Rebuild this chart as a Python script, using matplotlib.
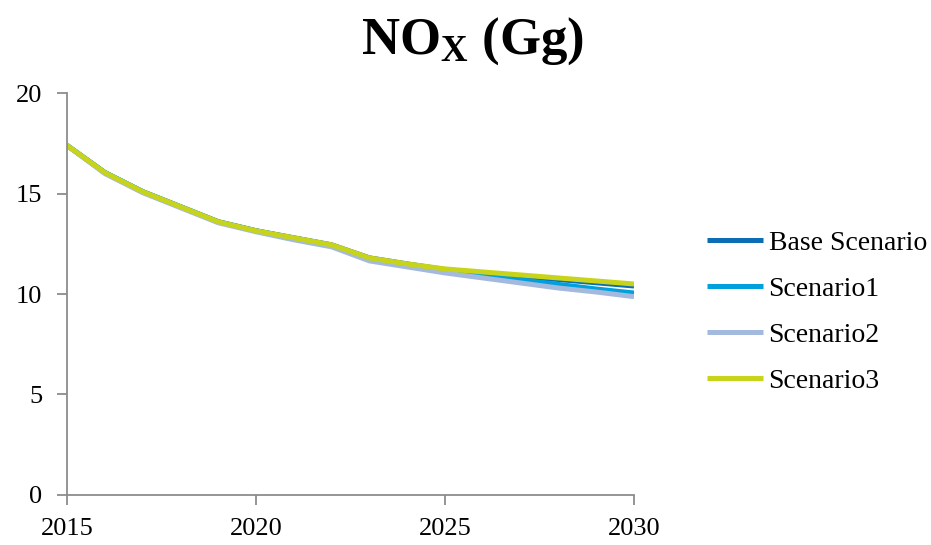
import matplotlib
matplotlib.use("Agg")
import matplotlib.pyplot as plt

years = list(range(2015, 2031))
base_scenario = [17.4, 16.05, 15.1, 14.35, 13.6, 13.15, 12.8, 12.45, 11.8, 11.5, 11.22, 11.05, 10.88, 10.72, 10.56, 10.4]
scenario1 = [17.4, 16.05, 15.1, 14.35, 13.6, 13.15, 12.78, 12.42, 11.75, 11.45, 11.15, 10.95, 10.7, 10.48, 10.25, 10.05]
scenario2 = [17.4, 16.0, 15.05, 14.3, 13.55, 13.1, 12.7, 12.35, 11.65, 11.35, 11.05, 10.8, 10.55, 10.3, 10.1, 9.87]
scenario3 = [17.4, 16.05, 15.1, 14.35, 13.6, 13.15, 12.8, 12.45, 11.8, 11.5, 11.25, 11.1, 10.95, 10.8, 10.65, 10.5]

series_names = ["Base Scenario", "Scenario1", "Scenario2", "Scenario3"]
series_values = [base_scenario, scenario1, scenario2, scenario3]
colors = ["#0B6DB4", "#00A0DC", "#A3B9DE", "#C8D419"]

x_ticks = [2015, 2020, 2025, 2030]
y_ticks = [0, 5, 10, 15, 20]

plt.rcParams["font.family"] = ["Liberation Serif", "DejaVu Serif"]
plt.rcParams["mathtext.default"] = "regular"

fig = plt.figure(figsize=(9.31, 5.45), dpi=100)
ax = fig.add_axes([0.072, 0.092, 0.609, 0.737])

for name, vals, c in zip(series_names, series_values, colors):
    ax.plot(years, vals, color=c, lw=3.6, label=name, solid_capstyle="butt")

ax.set_xlim(2015, 2030)
ax.set_ylim(0, 20)
ax.set_xticks(x_ticks)
ax.set_yticks(y_ticks)

for side in ("top", "right"):
    ax.spines[side].set_visible(False)
for side in ("left", "bottom"):
    ax.spines[side].set_color("#8C8C8C")
    ax.spines[side].set_linewidth(1.3)

ax.tick_params(axis="y", direction="out", length=7, width=1.3, color="#8C8C8C",
               labelsize=19, pad=11)
ax.tick_params(axis="x", direction="out", length=7, width=1.3, color="#8C8C8C",
               labelsize=19, pad=10)

fig.text(0.507, 0.924, "NO$_{X}$ (Gg)", ha="center", va="center",
         fontsize=38, fontweight="bold")

leg = fig.legend(loc="center left", bbox_to_anchor=(0.748, 0.4275), frameon=False,
                 fontsize=20, handlelength=2.0, handletextpad=0.2, labelspacing=0.74,
                 borderaxespad=0)

fig.savefig("out.png", dpi=100)
